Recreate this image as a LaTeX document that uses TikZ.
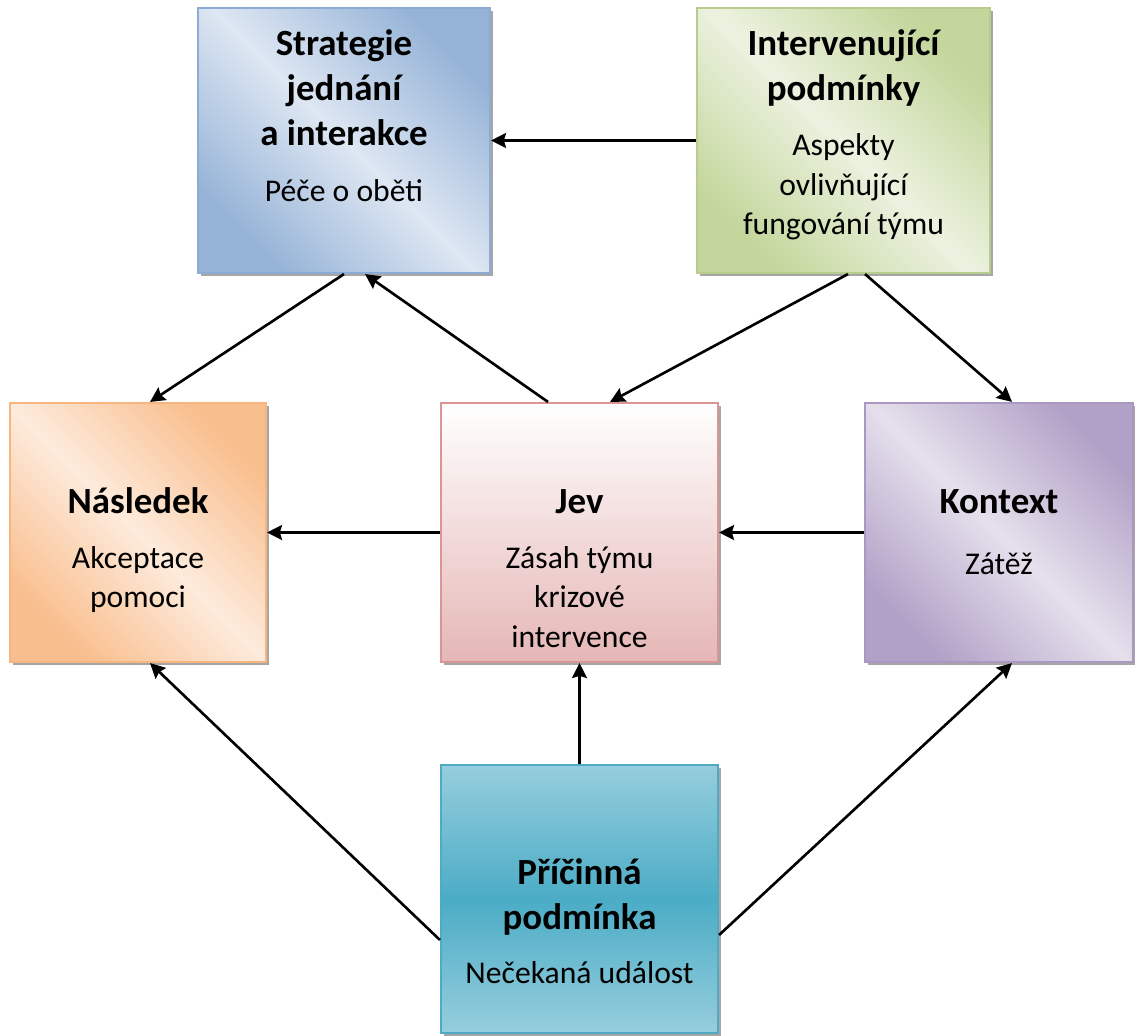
\documentclass[tikz,border=0pt]{standalone}
\usepackage{fontspec}
\setmainfont{Carlito}
\usetikzlibrary{arrows.meta,positioning,shadows}

\definecolor{blueD}{RGB}{149,179,215}
\definecolor{blueL}{RGB}{222,231,243}
\definecolor{blueB}{RGB}{140,172,212}
\definecolor{greenD}{RGB}{195,214,155}
\definecolor{greenL}{RGB}{236,242,224}
\definecolor{greenB}{RGB}{184,204,142}
\definecolor{orangeD}{RGB}{249,190,141}
\definecolor{orangeL}{RGB}{253,235,220}
\definecolor{orangeB}{RGB}{247,182,128}
\definecolor{pinkD}{RGB}{229,183,182}
\definecolor{pinkB}{RGB}{217,150,148}
\definecolor{purpleD}{RGB}{178,161,199}
\definecolor{purpleL}{RGB}{229,224,236}
\definecolor{purpleB}{RGB}{170,152,194}
\definecolor{tealD}{RGB}{75,172,198}
\definecolor{tealL}{RGB}{150,206,221}
\definecolor{tealB}{RGB}{80,170,196}

\begin{document}
\begin{tikzpicture}[
  box/.style={draw, line width=1.2pt, inner sep=0pt,
    drop shadow={shadow xshift=1.6pt, shadow yshift=-1.6pt, fill=black, opacity=.35}},
  diag/.style 2 args={left color=#1, right color=#1, middle color=#2, shading angle=135},
  title/.style={font=\bfseries\fontsize{21}{25.6}\selectfont, align=center, inner sep=0pt,
    anchor=north, execute at begin node=\strut, execute at end node=\strut},
  sub/.style={font=\fontsize{18}{22.4}\selectfont, align=center, inner sep=0pt,
    anchor=north, execute at begin node=\strut, execute at end node=\strut},
  arr/.style={-{Stealth[length=8.5pt,width=8.5pt,inset=1.2pt]}, line width=1.5pt}
]
\useasboundingbox (0,0) rectangle (22.7,-20.7);

% boxes
\node (strat) [box, draw=blueB, diag={blueD}{blueL}, minimum width=5.84cm, minimum height=5.3cm] at (6.88,-2.81) {};
\node (interv) [box, draw=greenB, diag={greenD}{greenL}, minimum width=5.86cm, minimum height=5.3cm] at (16.87,-2.81) {};
\node (nasl) [box, draw=orangeB, diag={orangeD}{orangeL}, minimum width=5.12cm, minimum height=5.18cm] at (2.76,-10.65) {};
\node (jev) [box, draw=pinkB, top color=white, bottom color=pinkD, minimum width=5.54cm, minimum height=5.18cm] at (11.59,-10.65) {};
\node (kont) [box, draw=purpleB, diag={purpleD}{purpleL}, minimum width=5.36cm, minimum height=5.18cm] at (19.98,-10.65) {};
\node (pric) [box, draw=tealB, top color=tealL, bottom color=tealL, middle color=tealD, minimum width=5.54cm, minimum height=5.36cm] at (11.59,-17.98) {};

% texts
\node (stratT) [title] at ([yshift=-0.45cm]strat.north) {Strategie\\jednání\\a interakce};
\node (stratS) [sub, below=0.29cm of stratT] {Péče o oběti};
\node (intervT) [title] at ([yshift=-0.45cm]interv.north) {Intervenující\\podmínky};
\node (intervS) [sub, below=0.38cm of intervT] {Aspekty\\ovlivňující\\fungování týmu};
\node (naslT) [title] at ([yshift=-1.59cm]nasl.north) {Následek};
\node (naslS) [sub, below=0.38cm of naslT] {Akceptace\\pomoci};
\node (jevT) [title] at ([yshift=-1.59cm]jev.north) {Jev};
\node (jevS) [sub, below=0.38cm of jevT] {Zásah týmu\\krizové\\intervence};
\node (kontT) [title] at ([yshift=-1.59cm]kont.north) {Kontext};
\node (kontS) [sub, below=0.38cm of kontT] {Zátěž};
\node (pricT) [title] at ([yshift=-1.89cm]pric.north) {Příčinná\\podmínka};
\node (pricS) [sub, below=0.25cm of pricT] {Nečekaná událost};

% arrows
\draw [arr] (interv.west) to (strat.east);
\draw [arr] (strat.south) to ([xshift=0.24cm]nasl.north);
\draw [arr] ([xshift=-0.63cm]jev.north) to ([xshift=0.42cm]strat.south);
\draw [arr] ([xshift=0.09cm]interv.south) to ([xshift=0.61cm]jev.north);
\draw [arr] ([xshift=0.43cm]interv.south) to ([xshift=0.26cm]kont.north);
\draw [arr] (jev.west) to (nasl.east);
\draw [arr] (kont.west) to (jev.east);
\draw [arr] (pric.north) to (jev.south);
\draw [arr] ([yshift=-0.82cm]pric.west) to ([xshift=0.24cm]nasl.south);
\draw [arr] ([yshift=-0.72cm]pric.east) to ([xshift=0.26cm]kont.south);
\end{tikzpicture}
\end{document}
